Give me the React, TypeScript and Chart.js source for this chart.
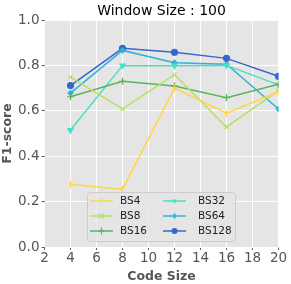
import React, { useEffect, useRef } from "react";
import { Chart, registerables } from "chart.js";

Chart.register(...registerables);

const codeSizes = [4, 8, 12, 16, 20];
const seriesNames = ["BS4", "BS8", "BS16", "BS32", "BS64", "BS128"];
const bs4 = [0.276, 0.254, 0.7, 0.589, 0.684];
const bs8 = [0.748, 0.608, 0.759, 0.529, 0.689];
const bs16 = [0.662, 0.73, 0.709, 0.658, 0.717];
const bs32 = [0.515, 0.799, 0.799, 0.8, 0.714];
const bs64 = [0.678, 0.866, 0.812, 0.805, 0.608];
const bs128 = [0.711, 0.875, 0.858, 0.831, 0.752];
const xTicks = [2, 4, 6, 8, 10, 12, 14, 16, 18, 20];
const yTicks = [0, 0.2, 0.4, 0.6, 0.8, 1.0];
const titleText = "Window Size : 100";
const xTitle = "Code Size";
const yTitle = "F1-score";

const colors = ["#ffd64a", "#b6e064", "#5db35d", "#47e0c6", "#30b2d8", "#3567cf"];
const pointStyles: any[] = ["line", "crossRot", "cross", "triangle", "rectRot", "circle"];
const pointRot = [90, 0, 0, 180, 0, 0];
const pointRad = [3.5, 3, 3.5, 3, 2.5, 3];

const allSeries = [bs4, bs8, bs16, bs32, bs64, bs128];

const titlePlugin = {
  id: "customTitle",
  afterDraw(chart: any) {
    const { ctx, chartArea } = chart;
    ctx.save();
    ctx.fillStyle = "#000";
    ctx.font = "14px 'DejaVu Sans'";
    ctx.textAlign = "center";
    ctx.textBaseline = "bottom";
    ctx.fillText(titleText, (chartArea.left + chartArea.right) / 2, chartArea.top - 2);
    ctx.restore();
  },
};

function drawMarker(ctx: CanvasRenderingContext2D, style: string, x: number, y: number, r: number, rot: number) {
  ctx.save();
  ctx.translate(x, y);
  ctx.rotate((rot * Math.PI) / 180);
  ctx.lineWidth = 1.2;
  ctx.beginPath();
  if (style === "line") {
    ctx.moveTo(-r, 0);
    ctx.lineTo(r, 0);
    ctx.stroke();
  } else if (style === "crossRot") {
    ctx.moveTo(-r * 0.8, -r * 0.8);
    ctx.lineTo(r * 0.8, r * 0.8);
    ctx.moveTo(-r * 0.8, r * 0.8);
    ctx.lineTo(r * 0.8, -r * 0.8);
    ctx.stroke();
  } else if (style === "cross") {
    ctx.moveTo(-r, 0);
    ctx.lineTo(r, 0);
    ctx.moveTo(0, -r);
    ctx.lineTo(0, r);
    ctx.stroke();
  } else if (style === "triangle") {
    ctx.moveTo(0, -r);
    ctx.lineTo(r * 0.87, r * 0.5);
    ctx.lineTo(-r * 0.87, r * 0.5);
    ctx.closePath();
    ctx.fill();
  } else if (style === "rectRot") {
    ctx.moveTo(0, -r * 1.3);
    ctx.lineTo(r * 0.8, 0);
    ctx.lineTo(0, r * 1.3);
    ctx.lineTo(-r * 0.8, 0);
    ctx.closePath();
    ctx.fill();
  } else {
    ctx.arc(0, 0, r, 0, Math.PI * 2);
    ctx.fill();
  }
  ctx.restore();
}

const legendPlugin = {
  id: "customLegend",
  afterDraw(chart: any) {
    const { ctx } = chart;
    const bx = 87, by = 192, bw = 148, bh = 49;
    ctx.save();
    ctx.fillStyle = "rgba(229,229,229,0.85)";
    ctx.strokeStyle = "#cccccc";
    ctx.lineWidth = 1;
    ctx.beginPath();
    (ctx as any).roundRect(bx + 0.5, by + 0.5, bw, bh, 3);
    ctx.fill();
    ctx.stroke();
    ctx.font = "10.5px 'DejaVu Sans'";
    ctx.textBaseline = "middle";
    ctx.textAlign = "left";
    seriesNames.forEach((name, i) => {
      const col = Math.floor(i / 3);
      const row = i % 3;
      const lx = col === 0 ? 90 : 163;
      const tx = col === 0 ? 120 : 198;
      const ly = 201 + row * 15;
      ctx.strokeStyle = colors[i];
      ctx.lineWidth = 1.5;
      ctx.beginPath();
      ctx.moveTo(lx, ly);
      ctx.lineTo(lx + 23, ly);
      ctx.stroke();
      ctx.fillStyle = colors[i];
      ctx.strokeStyle = colors[i];
      drawMarker(ctx, pointStyles[i], lx + 11.5, ly, pointRad[i], pointRot[i]);
      ctx.fillStyle = "#222";
      ctx.fillText(name, tx, ly + 0.5);
    });
    ctx.restore();
  },
};

const bgPlugin = {
  id: "plotBg",
  beforeDraw(chart: any) {
    const { ctx, chartArea } = chart;
    ctx.save();
    ctx.fillStyle = "#e5e5e5";
    ctx.fillRect(chartArea.left, chartArea.top, chartArea.right - chartArea.left, chartArea.bottom - chartArea.top);
    ctx.restore();
  },
};

export default function App() {
  const ref = useRef<HTMLCanvasElement>(null);
  useEffect(() => {
    document.body.style.margin = "0";
    if (!ref.current) return;
    const chart = new Chart(ref.current, {
      type: "line",
      data: {
        datasets: seriesNames.map((name, i) => ({
          label: name,
          data: codeSizes.map((x, j) => ({ x, y: allSeries[i][j] })),
          borderColor: colors[i],
          backgroundColor: colors[i],
          borderWidth: 1.5,
          pointStyle: pointStyles[i],
          rotation: pointRot[i],
          pointRadius: pointRad[i],
          pointBorderWidth: 1.2,
          tension: 0,
        })),
      },
      options: {
        animation: false,
        responsive: false,
        layout: { padding: { top: 20, right: 12.5, left: 0, bottom: 0 } },
        plugins: {
          legend: { display: false },
          title: { display: false },
          tooltip: { enabled: false },
        },
        scales: {
          x: {
            type: "linear",
            min: 2,
            max: 20,
            afterBuildTicks: (s: any) => {
              s.ticks = xTicks.map((v) => ({ value: v }));
            },
            afterFit: (s: any) => {
              s.height = 37;
            },
            ticks: {
              color: "#555",
              font: { size: 13.5, family: "'DejaVu Sans'" },
              padding: 0,
              maxRotation: 0,
              autoSkip: false,
            },
            grid: { color: "#ffffff", lineWidth: 1, tickLength: 3, tickColor: "#666" },
            border: { display: false },
            title: {
              display: true,
              text: xTitle,
              color: "#555",
              font: { size: 12.5, weight: "bold", family: "'DejaVu Sans'" },
              padding: { top: 0, bottom: 0 },
            },
          },
          y: {
            type: "linear",
            min: 0,
            max: 1,
            afterBuildTicks: (s: any) => {
              s.ticks = yTicks.map((v) => ({ value: v }));
            },
            afterFit: (s: any) => {
              s.width = 44.5;
            },
            ticks: {
              color: "#555",
              font: { size: 13.5, family: "'DejaVu Sans'" },
              padding: 2,
              callback: (v: any) => Number(v).toFixed(1),
            },
            grid: { color: "#ffffff", lineWidth: 1, tickLength: 3, tickColor: "#666" },
            border: { display: false },
            title: {
              display: true,
              text: yTitle,
              color: "#555",
              font: { size: 12.5, weight: "bold", family: "'DejaVu Sans'" },
              padding: { top: 0, bottom: 0 },
            },
          },
        },
      },
      plugins: [bgPlugin, titlePlugin, legendPlugin],
    } as any);
    return () => chart.destroy();
  }, []);
  return <canvas ref={ref} width={291} height={284} style={{ display: "block" }} />;
}
